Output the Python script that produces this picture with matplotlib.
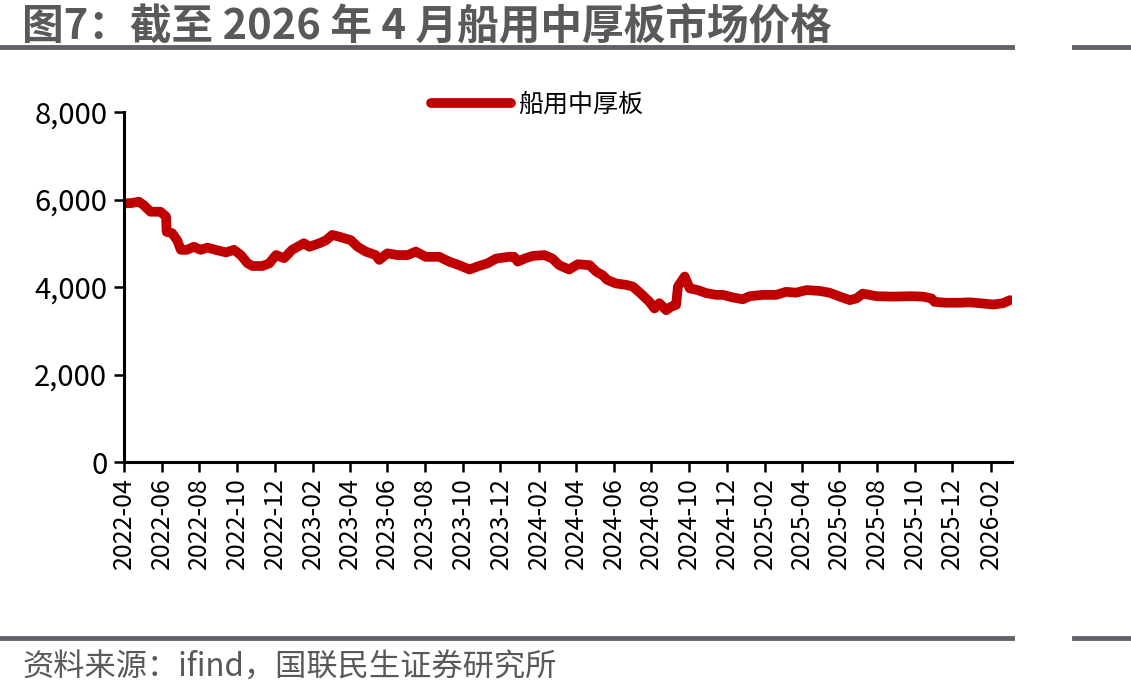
import matplotlib
matplotlib.use("Agg")
import matplotlib.pyplot as plt
import matplotlib.dates as mdates
from matplotlib.lines import Line2D
from matplotlib.ticker import FuncFormatter
import pandas as pd

plt.rcParams['font.family'] = ['Noto Sans CJK SC', 'DejaVu Sans']

# 船用中厚板价格（元/吨），读图估计
dates = ["2022-04-01", "2022-04-14", "2022-04-25", "2022-05-03", "2022-05-14", "2022-05-30",
         "2022-06-08", "2022-06-09", "2022-06-18", "2022-06-26", "2022-07-02", "2022-07-12",
         "2022-07-23", "2022-08-03", "2022-08-14", "2022-08-27", "2022-09-13", "2022-09-26",
         "2022-10-07", "2022-10-18", "2022-10-26", "2022-11-11", "2022-11-22", "2022-12-03",
         "2022-12-16", "2022-12-29", "2023-01-17", "2023-01-26", "2023-02-11", "2023-02-22",
         "2023-03-04", "2023-03-15", "2023-04-03", "2023-04-14", "2023-04-27", "2023-05-13",
         "2023-05-19", "2023-06-01", "2023-06-17", "2023-07-04", "2023-07-17", "2023-08-02",
         "2023-08-08", "2023-08-24", "2023-09-09", "2023-09-25", "2023-10-12", "2023-10-25",
         "2023-11-10", "2023-11-24", "2023-12-15", "2023-12-23", "2023-12-29", "2024-01-09",
         "2024-01-22", "2024-02-10", "2024-02-23", "2024-03-05", "2024-03-21", "2024-04-04",
         "2024-04-23", "2024-05-04", "2024-05-14", "2024-05-22", "2024-06-05", "2024-06-21",
         "2024-07-02", "2024-07-15", "2024-07-29", "2024-08-06", "2024-08-14", "2024-08-25",
         "2024-09-02", "2024-09-10", "2024-09-13", "2024-09-24", "2024-10-02", "2024-10-15",
         "2024-10-29", "2024-11-14", "2024-11-25", "2024-12-11", "2024-12-27", "2025-01-07",
         "2025-01-28", "2025-02-19", "2025-03-07", "2025-03-23", "2025-04-09", "2025-04-30",
         "2025-05-16", "2025-06-02", "2025-06-18", "2025-06-29", "2025-07-09", "2025-07-31",
         "2025-08-27", "2025-09-23", "2025-10-14", "2025-10-28", "2025-11-02", "2025-11-21",
         "2025-12-13", "2025-12-29", "2026-01-14", "2026-02-05", "2026-02-21", "2026-03-04"]
prices = [5910, 5920, 5950, 5870, 5720, 5720,
          5610, 5260, 5230, 5070, 4850, 4850,
          4920, 4850, 4900, 4850, 4790, 4850,
          4730, 4540, 4480, 4480, 4540, 4730,
          4660, 4850, 5000, 4920, 5000, 5070,
          5190, 5150, 5070, 4920, 4810, 4730,
          4620, 4770, 4730, 4730, 4810, 4690,
          4690, 4690, 4580, 4500, 4400, 4470,
          4540, 4650, 4690, 4690, 4580, 4650,
          4710, 4730, 4650, 4500, 4400, 4520,
          4500, 4350, 4270, 4160, 4080, 4050,
          4010, 3850, 3660, 3510, 3630, 3470,
          3550, 3590, 4010, 4240, 3970, 3930,
          3860, 3820, 3820, 3760, 3720, 3790,
          3820, 3820, 3890, 3870, 3930, 3910,
          3870, 3780, 3700, 3740, 3850, 3790,
          3780, 3790, 3780, 3740, 3660, 3640,
          3640, 3650, 3630, 3600, 3630, 3700]
series_name = "船用中厚板"
y_ticks = [0, 2000, 4000, 6000, 8000]

title = "图7：截至 2026 年 4 月船用中厚板市场价格"
source = "资料来源：ifind，国联民生证券研究所"

x = pd.to_datetime(dates)

fig = plt.figure(figsize=(11.31, 7.0), dpi=100)
ax = fig.add_axes([0.1096, 0.34, 0.785, 0.50])

ax.plot(x, prices, color="#C00000", linewidth=7, solid_capstyle="round",
        solid_joinstyle="round", label=series_name)

ax.set_ylim(0, 8000)
ax.set_yticks(y_ticks)
ax.yaxis.set_major_formatter(FuncFormatter(lambda v, p: f"{int(v):,}"))
ax.set_xlim(pd.Timestamp("2022-04-01"), pd.Timestamp("2026-03-07"))
ax.xaxis.set_major_locator(mdates.MonthLocator(bymonth=[2, 4, 6, 8, 10, 12]))
ax.xaxis.set_major_formatter(mdates.DateFormatter("%Y-%m"))
plt.setp(ax.get_xticklabels(), rotation=90)

for side in ["top", "right"]:
    ax.spines[side].set_visible(False)
for side in ["left", "bottom"]:
    ax.spines[side].set_linewidth(2.2)
    ax.spines[side].set_color("black")
ax.tick_params(axis="both", direction="out", length=7, width=1.8, color="black")
ax.tick_params(axis="x", pad=4, labelsize=18)
ax.tick_params(axis="y", pad=5, labelsize=21)

ax.legend(loc="center", bbox_to_anchor=(0.465, 1.02), frameon=False, fontsize=18,
          handlelength=3.2, handletextpad=0.3)

fig.text(0.0195, 0.962, title, fontsize=30, fontweight="bold", color="#595959", va="center")
fig.text(0.0195, 0.046, source, fontsize=22.5, color="#595959", va="center", fontweight="light")

rule_color = "#5f6368"
fig.add_artist(Line2D([0, 0.895], [0.933, 0.933], color=rule_color, linewidth=3.5))
fig.add_artist(Line2D([0.950, 1.0], [0.933, 0.933], color=rule_color, linewidth=3.5))
fig.add_artist(Line2D([0, 0.895], [0.0886, 0.0886], color=rule_color, linewidth=3.5))
fig.add_artist(Line2D([0.950, 1.0], [0.0886, 0.0886], color=rule_color, linewidth=3.5))

fig.savefig("out.png", dpi=100)
